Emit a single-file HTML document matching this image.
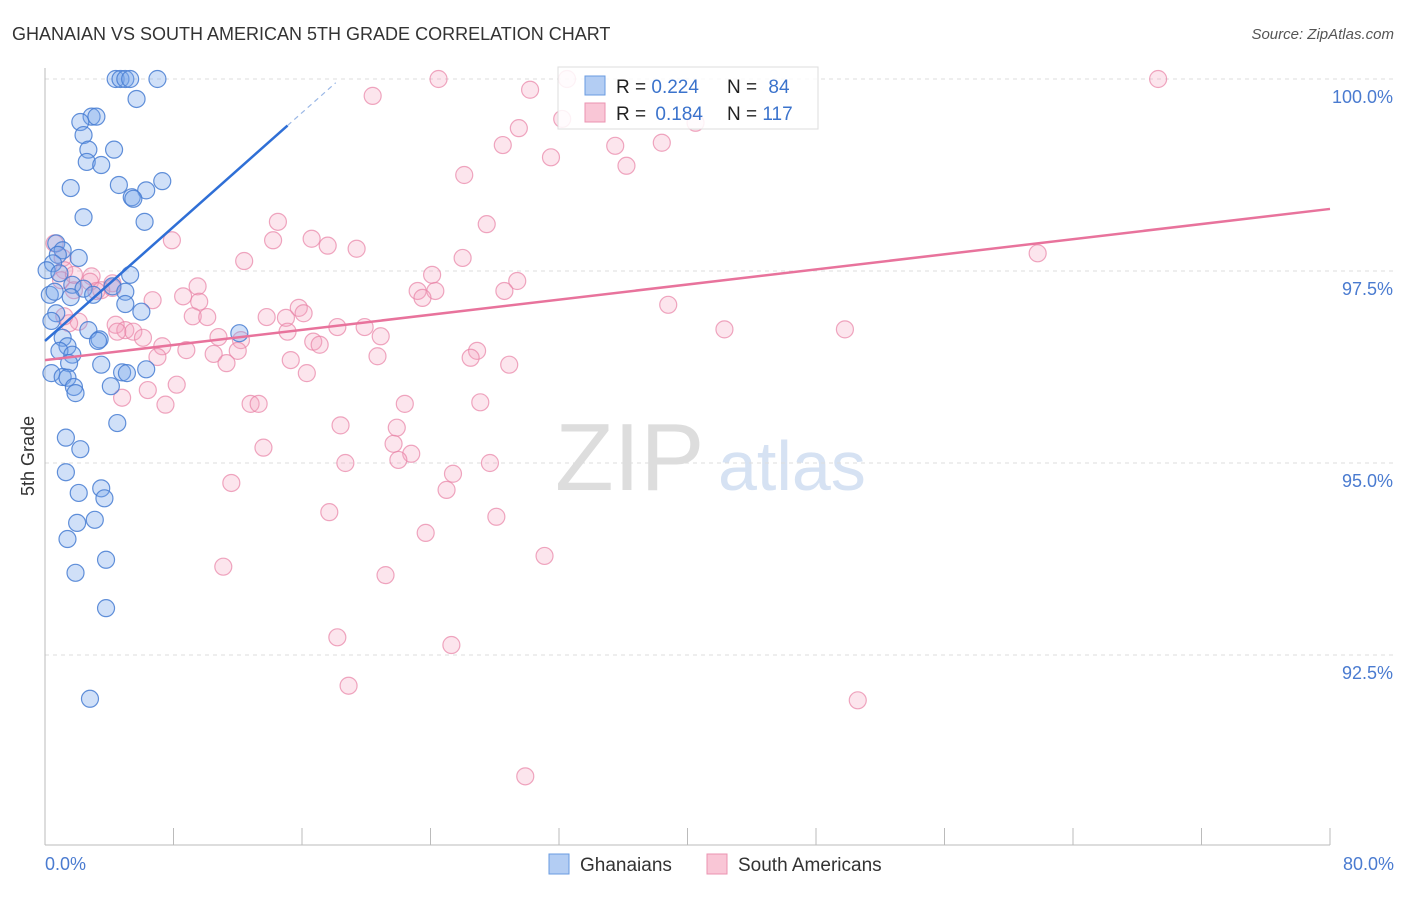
<!DOCTYPE html>
<html><head><meta charset="utf-8"><style>
body{margin:0;background:#fff;width:1406px;height:892px;overflow:hidden;font-family:"Liberation Sans",sans-serif}
svg text{font-family:"Liberation Sans",sans-serif}
</style></head><body>
<svg id="chart" width="1406" height="892" xmlns="http://www.w3.org/2000/svg">
<text x="12" y="40" font-size="18" fill="#333">GHANAIAN VS SOUTH AMERICAN 5TH GRADE CORRELATION CHART</text>
<text x="1394" y="39" font-size="15" fill="#555" font-style="italic" text-anchor="end">Source: ZipAtlas.com</text>
<g>
<text x="555" y="490" font-size="96" fill="#ddd" font-family="Liberation Serif,serif">ZIP</text>
<text x="718" y="490" font-size="70" fill="#d6e2f3">atlas</text>
</g>
<g id="grid"></g>
<g id="axes"></g>
<text transform="translate(34,456) rotate(-90)" font-size="18" fill="#333" text-anchor="middle">5th Grade</text>
<text x="45" y="870" font-size="18" fill="#4a7bd0">0.0%</text>
<text x="1394" y="870" font-size="18" fill="#4a7bd0" text-anchor="end">80.0%</text>
<g id="pink"></g>
<g id="blue"></g>
<g id="lines"></g>
<g>
<rect x="558" y="67" width="260" height="62" fill="#fff" fill-opacity="0.85" stroke="#ddd"/>
<rect x="585" y="76" width="20" height="19" fill="#b3cdf3" stroke="#6a9be0"/>
<rect x="585" y="103" width="20" height="19" fill="#f9c6d6" stroke="#eb93b0"/>
<text x="616" y="93" font-size="19" fill="#222">R = <tspan fill="#3b73cc">0.224</tspan></text>
<text x="727" y="93" font-size="19" fill="#222">N = <tspan fill="#3b73cc" dx="6">84</tspan></text>
<text x="616" y="120" font-size="19" fill="#222">R = <tspan fill="#3b73cc" dx="4">0.184</tspan></text>
<text x="727" y="120" font-size="19" fill="#222">N = <tspan fill="#3b73cc">117</tspan></text>
</g>
<g>
<g><rect x="549" y="854" width="20" height="20" fill="#b3cdf3" stroke="#6a9be0"/><text x="580" y="871" font-size="19" fill="#333">Ghanaians</text></g>
<g><rect x="707" y="854" width="20" height="20" fill="#f9c6d6" stroke="#eb93b0"/><text x="738" y="871" font-size="19" fill="#333">South Americans</text></g>
</g>
</svg>
<script>
const blueX=[4.4,4.7,5.0,5.3,7.0,5.7,2.9,3.2,2.2,2.4,4.3,2.7,2.6,3.5,7.3,4.6,1.6,6.3,5.4,5.5,2.4,6.2,0.7,1.1,0.8,2.1,0.5,0.1,0.9,5.3,1.7,2.4,4.2,0.3,0.6,3.0,5.0,1.6,5.0,6.0,0.7,0.4,2.7,1.1,3.4,3.3,12.1,1.4,0.9,1.7,1.5,3.5,0.4,6.3,4.8,5.1,1.1,1.4,1.8,4.1,1.9,4.5,1.3,2.2,1.3,2.1,3.5,3.7,2.0,3.1,1.4,3.8,1.9,3.8,2.8];
const blueY=[100,100,100,100,100,99.74,99.51,99.51,99.44,99.27,99.08,99.08,98.92,98.88,98.67,98.62,98.58,98.55,98.46,98.44,98.20,98.14,97.86,97.77,97.71,97.67,97.60,97.51,97.47,97.45,97.32,97.27,97.30,97.19,97.23,97.19,97.23,97.16,97.07,96.97,96.95,96.85,96.73,96.63,96.61,96.59,96.69,96.52,96.46,96.41,96.30,96.28,96.17,96.22,96.18,96.17,96.12,96.11,95.99,96.00,95.91,95.52,95.33,95.18,94.88,94.61,94.67,94.54,94.22,94.26,94.01,93.74,93.57,93.11,91.93];
const pinkX=[24.5,32.5,69.3,20.4,30.2,32.2,40.5,29.5,28.5,35.5,38.4,31.5,36.2,26.1,14.5,27.5,14.2,16.6,7.9,17.6,19.4,61.8,12.4,26.0,0.6,1.1,1.2,2.9,1.0,2.8,4.2,3.5,24.1,29.4,9.5,4.2,3.2,1.8,24.3,23.2,28.6,8.6,23.5,6.7,9.6,15.8,13.8,15.0,16.1,9.2,10.1,38.8,2.1,1.5,4.4,5.0,4.5,5.5,6.1,15.1,10.8,12.2,18.2,19.9,20.9,16.7,17.1,7.3,42.3,49.8,10.5,12.0,8.8,7.0,11.3,15.3,20.7,26.9,26.5,28.9,16.3,8.2,6.4,4.8,7.5,12.8,13.3,22.4,27.1,18.4,21.9,21.7,13.6,22.8,22.0,18.7,27.7,25.4,11.6,25.0,17.7,28.1,23.7,31.1,11.1,21.2,18.2,25.3,18.9,50.6,29.9,1.2,1.8];
const pinkY=[100,100,100,99.78,99.86,99.48,99.43,99.36,99.14,99.13,99.17,98.98,98.87,98.75,98.14,98.11,97.90,97.92,97.90,97.83,97.79,97.73,97.63,97.67,97.86,97.67,97.51,97.43,97.38,97.36,97.34,97.25,97.45,97.37,97.30,97.28,97.24,97.25,97.24,97.24,97.24,97.17,97.15,97.12,97.10,97.02,96.90,96.89,96.95,96.91,96.90,97.06,96.84,96.82,96.80,96.73,96.71,96.71,96.63,96.71,96.64,96.60,96.77,96.77,96.65,96.58,96.54,96.52,96.74,96.74,96.42,96.46,96.47,96.38,96.30,96.34,96.39,96.46,96.37,96.28,96.17,96.02,95.95,95.85,95.76,95.77,95.77,95.77,95.79,95.49,95.46,95.25,95.20,95.12,95.04,95.00,95.00,94.86,94.74,94.65,94.36,94.30,94.09,93.79,93.65,93.54,92.73,92.63,92.10,91.91,90.92,96.91,97.45];
const yTicks=[100,97.5,95,92.5];
const yTickLabels=["100.0%","97.5%","95.0%","92.5%"];
const xTicks=[0,8,16,24,32,40,48,56,64,72,80];
const blueTrend=[96.59,0.1857];
const pinkTrend=[96.34,0.0246];
const NS='http://www.w3.org/2000/svg';
const sx=v=>45+v*1285/80;
const sy=v=>79+(100-v)*76.8;
function mk(tag,attrs,parent){const e=document.createElementNS(NS,tag);for(const k in attrs)e.setAttribute(k,attrs[k]);parent.appendChild(e);return e;}
const grid=document.getElementById('grid'),axes=document.getElementById('axes');
yTicks.forEach((t,i)=>{
 const l=mk('line',{x1:45,x2:1393,y1:sy(t),y2:sy(t),stroke:'#ddd','stroke-dasharray':'4,4'},grid);
 
 
 const tx=mk('text',{x:1393,y:sy(t)+24,'font-size':18,fill:'#4a7bd0','text-anchor':'end'},axes);
 tx.textContent=yTickLabels[i];
 
 
});
mk('line',{x1:45,x2:45,y1:68,y2:845,stroke:'#bbb'},axes);
mk('line',{x1:45,x2:1330,y1:845,y2:845,stroke:'#bbb'},axes);
xTicks.forEach(t=>{
 const l=mk('line',{x1:sx(t),x2:sx(t),y1:828,y2:845,stroke:'#bbb'},axes);
 
 
});
function pts(xs,ys,g,fill,stroke,name){
 xs.forEach((x,i)=>{
  const c=mk('circle',{cx:sx(x),cy:sy(ys[i]),r:8.5,fill:fill,stroke:stroke,'stroke-width':1.2},g);
  
  
 });
}
pts(pinkX,pinkY,document.getElementById('pink'),'rgba(244,163,190,0.28)','rgba(232,130,165,0.7)','south-american-point');
pts(blueX,blueY,document.getElementById('blue'),'rgba(120,165,235,0.35)','rgba(70,125,210,0.85)','ghanaian-point');
const lines=document.getElementById('lines');
const bEnd=15.1,bDash=18.1;
const b1=mk('line',{x1:sx(0),y1:sy(blueTrend[0]),x2:sx(bEnd),y2:sy(blueTrend[0]+blueTrend[1]*bEnd),stroke:'#2f6fd6','stroke-width':2.5},lines);


const b2=mk('line',{x1:sx(bEnd),y1:sy(blueTrend[0]+blueTrend[1]*bEnd),x2:sx(bDash),y2:sy(blueTrend[0]+blueTrend[1]*bDash),stroke:'#9bb8e6','stroke-width':1.2,'stroke-dasharray':'5,4'},lines);


const p1=mk('line',{x1:sx(0),y1:sy(pinkTrend[0]),x2:sx(80),y2:sy(pinkTrend[0]+pinkTrend[1]*80),stroke:'#e8739c','stroke-width':2.5},lines);


</script>
</body></html>
